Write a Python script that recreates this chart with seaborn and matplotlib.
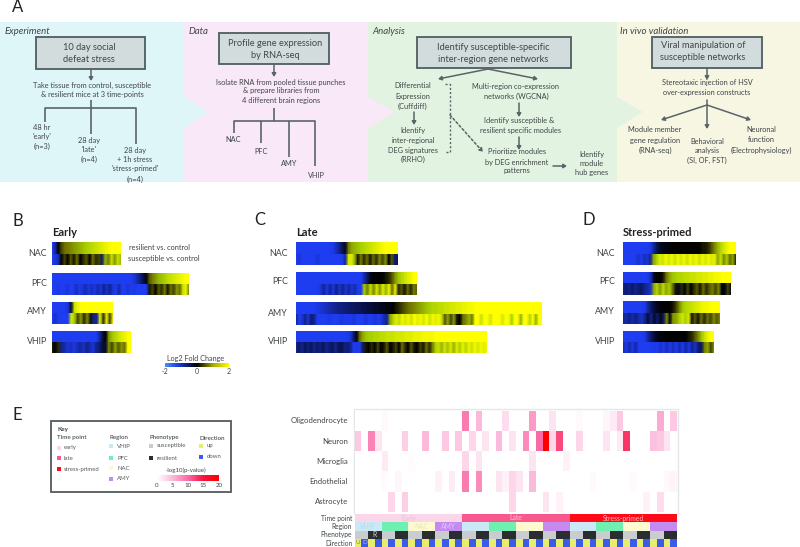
import matplotlib
matplotlib.use("Agg")
import matplotlib.pyplot as plt
import seaborn as sns
import pandas as pd
from matplotlib.colors import LinearSegmentedColormap, ListedColormap, Normalize
from matplotlib.cm import ScalarMappable
from matplotlib.patches import Polygon, Rectangle

# log2 fold change strips: top row resilient, bottom row susceptible
early_nac_res = [-2, -1.2, -.1, .3, .5, .6, .7, .8, .9, 1, 1.1, 1.2, 1.3, 1.4, 1.5, 1.6, 1.7, 1.8, 1.9, 2, 2, 2, 2]
early_nac_sus = [-2, -1.5, -1.3, 0, .3, 0, .4, .1, .5, 0, .2, .4, 0, .5, .2, .3, -.8, 1, .6, 1.5, .8, 1.5, 1]
early_pfc_res = [-2]*26 + [-1.8, -1.5, -1.2, -.9, -.5, -.1, .4, .6, .8, 1, 1.1, 1.2, 1.4, 1.5, 1.6, 1.7, 1.8, 1.9, 2, 2]
early_pfc_sus = [-2, -2, -1.6, -2, -2, -1.5, -2, -2, -1.3, -2, -1.5, -1.2, -1.6, -1.3, -1.6, -1.2, -1.5, -1, -1.4, -1, -1.5, -1.7, -1.2, -1.7, -1.7, -1.5, -2, -1.6, -2, -2, -1.8, -2,
                 .1, .3, 0, .4, .2, .6, .1, .5, .3, .8, .5, 1.5, 1.8, .6]
early_amy_res = [-2, -2, -2, -2, -2, -1.5, -.3, 1.5, 1.8, 2, 2, 2, 2, 2, 2, 2, 2, 2, 2, 2]
early_amy_sus = [-2, -1.4, -2, -2, -2, -2, 1.6, 1.2, .3, .8, .2, .7, .1, -1, -1, 1.8, .2, 1.8, .3, 2]
early_vhip_res = [-2]*15 + [-1.2, -.5, 0, .8, 1.1, 1.3, 1.5, 1.7, 1.8, 2, 2]
early_vhip_sus = [.1, -.1, .2, -1, -1.2, -1.5, -1.3, -1.6, -1.3, -1.1, -1.4, -1, -1.2, -1.5, -1, -.8, -.4, -.3, .7, .3, .9, .4, .8, .5, 2, 2]

late_nac_res = [-2]*11 + [-1.8, -1.6, -1.3, -1, -.6, -.2, .6, .9, 1, 1.1, 1.2, 1.3, 1.4, 1.5, 1.6, 1.7, 1.8, 1.9, 2, 2, 2, 2, 2]
late_nac_sus = [-2, -1.5, -2, -1.7, -2, -1.7, -2, -1.5, -2, -2, -1.7, -2, -2, -1.8, -2, -2, -1, 1.6, 1.7, 1, .1, .6, .2, .5, .1, .5, .2, .7, .3, .8, 0, .4, -.8, -.6]
late_pfc_res = [-2]*21 + [-1.7, -1.2, -.7, -.2, 0, 0, 0, 0, .1, .2, .4, .8, 1.1, 1.3, 1.5, 1.7, 1.8, 2, 2]
late_pfc_sus = [-2]*8 + [-1.5, -1, -1.6, -1, -1.6, -.9, -1.5, -1, -1.5, -1.1, -1.5, -1.2, -1.7, -1.6,
                         1.2, .6, 1.5, .7, 1.6, .8, 1.7, 1, 1.8, .5, 1.8, .2, .4, .1, .5, .2, .6, .4]
late_amy_res = [-2]*6 + [-1.8, -1.6, -1.5, -1.4, -1.3, -1.2, -1.1, -1, -.9, -.9, -.8, -.8, -.7, -.7, -.6, -.6, -.5, -.5, -.4, -.4, -.3, -.3, -.2, -.2, -.1, -.1,
                         0, .1, .2, .3, .4, .5, .6, .7, .8, .9, 1, 1.1, 1.2, 1.3, 1.3, 1.4, 1.4, 1.5, 1.5, 1.6, 1.6, 1.7, 1.7, 1.8, 1.8, 1.9, 1.9] + [2]*23
late_amy_sus = [-1, -1.8, -1.5, -1, -1.5, -.8, -1, -2, -2, -2, -2, -1.6, -2, -2, -2, -1.5, -2, -1.6, -2, -1.5, -2, -1.7, -2, -1.5, -2, -1.8, -1.5, -2, -1.6, -1.2, -1,
                .9, 1.3, 1.7, 1.4, 1.9, 1.6, 1.9, 1.5, 2, 1.7, 1.9, 1.6, 2, 1.5, 1.9, 1.7, 1.9, 1.5,
                .4, .9, .3, .8, .1, 0, .5, .7, 1, .6,
                2, 2, 1.5, 2, 2, 1.6, 2, 2, 2, 1.6, 2, 2, 1.2, 2, 2, 1, 2, 2, 1.3, 2, 1, 2, 2]
late_vhip_res = [-2]*18 + [-1.5, -.8, -.1, .5, .9, 1.1, 1.2, 1.2, 1.3, 1.3, 1.4, 1.4, 1.5, 1.5, 1.5, 1.6, 1.6, 1.6, 1.7, 1.7, 1.7, 1.8, 1.8, 1.8, 1.9, 1.9, 1.9, 1.9] + [2]*18
late_vhip_sus = [-1, -.7, -1, -.6, -.9, -.6, -1, -.7, -.9, -.6, -1, -.8, -.6, -1, -.7, -.5, -.9, -.8, -1, -2, -1.6, -2, -.8,
                 .1, 0, .2, 0, .3, 0, .1, .4, 0, .1, .3, 0, .5, .2, 0, .4, .1, 0, .3, .1, .5, .2, .6,
                 1.2, 1.5, 1, 1.6, 1.1, 1.7, 1, 1.7, 1.2, 1.8, 1.3, 1.8, 1.5, 1.9, 1.6, 1.9, 1.7, 1.9]

primed_nac_res = [-2]*9 + [-1.6, -1.1, -.6, -.3, -.2, -.1, -.1, 0, 0, 0, 0, 0, 0, 0, 0, 0, 0, .1, .1, .2, .4, .7, 1, 1.3, 1.6, 1.8, 2, 2, 2]
primed_nac_sus = [-2, -2, -2, -2, -2, -1.4, -1.7, -1.3, -1.5, -1, .9, 1.2, 1.7, 1.5, 1.9, 1.6, 1.9, 1.5, 1.9, 1.6, 1.9, 1.5, 1.9, 1.6, 1.9, 1.5, 1.9, 1.6, 1.9, 1.6, 1.8, .9, 1.5, .7, 1.2, .5, .9, .1]
primed_pfc_res = [-2]*9 + [-1.3, -.3, 0, 0, .1, .5, .9, 1.1, 1.2, 1.3, 1.3, 1.4, 1.4, 1.5, 1.5, 1.6, 1.6, 1.7, 1.7, 1.8, 1.8, 1.9, 1.9, 2, 2, 2, 2]
primed_pfc_sus = [-1, -.8, -1, -.7, -1, -.8, -.7, -1, -1.2, -1.4, .9, 1.3, .8, 1.4, .9, 1.2, .6, .1, -.2, .2, -.1, .3, 0, .2, .4, .1, .5, .2, .4, .6, .3, .7, 0, -.1, .3, -.2]
primed_amy_res = [-2]*7 + [-1.6, -1.1, -.7, -.4, -.2, -.1, 0, 0, 0, .1, .3, .7, 1.1, 1.3, 1.4, 1.5, 1.6, 1.7, 1.8, 1.9, 1.9, 2, 2, 2, 2]
primed_amy_sus = [-1, -1.2, -.9, -1.2, -.9, -1.2, -1.4, -1, -.4, -1, -.3, -.8, -.2, -.7, .7, -.2, .8, .9, 1.2, 1.6, 1.2, 1.7, .1, .4, .1, .5, .2, .5, .3, .7, .4, .7]
primed_vhip_res = [-2]*7 + [-1.6, -1.1, -.7, -.4, -.2, -.1, -.1, 0, 0, 0, 0, 0, 0, 0, .1, .2, .4, .7, 1.1, 1.5, 1.8, 2, 2]
primed_vhip_sus = [-1.2, -1.6, -1.2, -1.6, -1.1, -1.8, -2, -1.8, -2, -2, -1.6, -2, -1.4, -2, -1.3, -2, -1.3, -1.8, -1.2, -1.8, -1.1, -1.6, -1, -1.4, -.8, -.6, .6, .9, .3, .8]

regions = ["NAC", "PFC", "AMY", "VHIP"]
early_strips = [(early_nac_res, early_nac_sus), (early_pfc_res, early_pfc_sus), (early_amy_res, early_amy_sus), (early_vhip_res, early_vhip_sus)]
late_strips = [(late_nac_res, late_nac_sus), (late_pfc_res, late_pfc_sus), (late_amy_res, late_amy_sus), (late_vhip_res, late_vhip_sus)]
primed_strips = [(primed_nac_res, primed_nac_sus), (primed_pfc_res, primed_pfc_sus), (primed_amy_res, primed_amy_sus), (primed_vhip_res, primed_vhip_sus)]

# -log10(p) per cell type over the 48 modules
cell_types = ["Oligodendrocyte", "Neuron", "Microglia", "Endothelial", "Astrocyte"]
oligodendrocyte = [0, 0, 0, 0, .5, 0, 0, 0, 0, 0, 0, 0, 0, 0, 0, 0, 9, 0, 5, 0, 0, 0, 2.5, 0, 0, 0, 7, 0, 0, 2, 0, 0, 0, .5, 0, 0, 0, .7, 1.5, 4, 0, 0, 0, 0, 0, 6, 0, 4]
neuron = [4, 0, 8.5, 2, 0, 0, 0, 3.5, 0, 0, 5, 0, 0, 4, 0, 4, 0, 3, 0, 2, 0, 5, 0, 2, 0, 8, 0, 10, 20, 3, 12, 0, 0, 3, 0, 0, 0, 2, 0, 1.5, 13, 0, 0, 0, 4.5, 4, 2, 0]
microglia = [0, 0, 0, 0, 1.5, 0, 0, 0, .3, 0, 0, 0, 0, 0, 0, 0, 3, 0, 2, 0, 0, 0, 0, 0, 0, 0, 2, 0, 0, 0, 0, 1, 0, 0, 0, 0, 0, 0, 0, 0, 0, 0, 0, 0, 0, 0, 0, 0]
endothelial = [0, 0, 0, 0, .4, 0, .7, 0, 0, 0, 0, 0, 1, 0, 1.5, 0, 9, 0, 8, 0, 0, 2, 1, 3, 2, 0, 5, 0, 0, 0, 0, 0, 0, 0, 0, .5, 0, 0, 0, 0, 0, .4, 0, 0, 0, 0, .5, .8]
astrocyte = [0, 0, 0, 0, 0, 3, 0, 3.5, 0, 0, 0, 0, 0, 0, 0, 0, 0, 0, 0, 0, 0, 0, 0, 3, 0, 0, 0, 0, 2, 0, 1, 0, 0, 0, 0, 0, 0, 0, 0, 0, 0, 0, 0, 1, 0, 2.5, 0, 0]

time_points = ["early", "late", "stress-primed"]
time_colors = ["#FAD6E8", "#F9588F", "#FF0A18"]
key_regions = ["VHIP", "PFC", "NAC", "AMY"]
region_colors = ["#CBE8F6", "#6FF0B0", "#FDFAD2", "#C48AF0"]
phenotypes = ["susceptible", "resilient"]
phenotype_colors = ["#C9CDD0", "#2A2E30"]
directions = ["up", "down"]
direction_colors = ["#E8EE6A", "#3B5CE8"]
p_ticks = [0, 5, 10, 15, 20]

time_codes = [0]*16 + [1]*16 + [2]*16
region_codes = ([0]*4 + [1]*4 + [2]*4 + [3]*4) * 3
phenotype_codes = ([0]*2 + [1]*2) * 12
direction_codes = [0, 1] * 24

dark = "#404548"
line_col = "#5A6468"
box_fill = "#D3DCDD"
box_edge = "#4E5D62"

sns.set_style("white")
plt.rcParams["font.family"] = ["Lato", "DejaVu Sans"]
plt.rcParams["axes.unicode_minus"] = False

W, H = 800, 547
fig = plt.figure(figsize=(W/100, H/100), dpi=100)
bg = fig.add_axes([0, 0, 1, 1])
bg.set_xlim(0, W)
bg.set_ylim(H, 0)
bg.axis("off")


def px_axes(x0, y0, x1, y1):
    return fig.add_axes([x0/W, 1 - y1/H, (x1 - x0)/W, (y1 - y0)/H], zorder=3)


def label(x, y, s, size=5.35, ha="center", **kw):
    kw.setdefault("color", dark)
    bg.text(x, y, s, fontsize=size, ha=ha, va="center", **kw)


def arrow(x0, y0, x1, y1, ls="-"):
    bg.annotate("", xy=(x1, y1), xytext=(x0, y0),
                arrowprops=dict(arrowstyle="-|>,head_width=0.12,head_length=0.2", color=line_col, lw=1.1,
                                ls=ls, shrinkA=0, shrinkB=0))


def line(xs, ys, ls="-", lw=1.2):
    bg.plot(xs, ys, color=line_col, lw=lw, ls=ls, solid_capstyle="butt")


def box(x0, y0, x1, y1, lines, cx, ys):
    bg.add_patch(Rectangle((x0, y0), x1 - x0, y1 - y0, fc=box_fill, ec=box_edge, lw=1.3))
    for s, y in zip(lines, ys):
        label(cx, y, s, size=6.7)


# panel A backgrounds, right one first so each arrow tip lies over the next
bg.add_patch(Rectangle((617, 22), 183, 160, fc="#F6F6E3", lw=0))
bg.add_patch(Polygon([(368, 22), (617, 22), (617, 97), (643, 112), (617, 128), (617, 182), (368, 182)], fc="#E2F4E1", lw=0))
bg.add_patch(Polygon([(184, 22), (368, 22), (368, 97), (395, 112), (368, 128), (368, 182), (184, 182)], fc="#F8E8F8", lw=0))
bg.add_patch(Polygon([(0, 22), (184, 22), (184, 97), (208, 112), (184, 128), (184, 182), (0, 182)], fc="#DFF6F8", lw=0))

label(12, 7, "A", size=12, ha="left", color="#222222")
label(12, 221, "B", size=12, ha="left", color="#222222")
label(254, 220, "C", size=12, ha="left", color="#222222")
label(582, 220, "D", size=12, ha="left", color="#222222")
label(12, 415, "E", size=12, ha="left", color="#222222")

label(5, 31, "Experiment", size=6.9, ha="left", style="italic")
label(189, 31, "Data", size=6.9, ha="left", style="italic")
label(372, 31, "Analysis", size=6.9, ha="left", style="italic")
label(620, 31, "In vivo validation", size=6.9, ha="left", style="italic")

# experiment column
box(36, 37, 145, 69, ["10 day social", "defeat stress"], 89, [47, 59])
arrow(91, 69, 91, 81)
label(92, 85, "Take tissue from control, susceptible")
label(92, 95, "& resilient mice at 3 time-points")
line([91, 91], [100, 134])
line([45, 45, 136, 136], [122, 108, 108, 144])
for s, y in zip(["48 hr", "'early'", "(n=3)"], [127, 136, 146]):
    label(42, y, s)
for s, y in zip(["28 day", "'late'", "(n=4)"], [140, 150, 159]):
    label(89, y, s)
for s, y in zip(["28 day", "+ 1h stress", "'stress-primed'", "(n=4)"], [150, 159, 169, 179]):
    label(135, y, s)

# data column
box(219, 33, 329, 64, ["Profile gene expression", "by RNA-seq"], 275, [44, 56])
arrow(274, 64, 274, 77)
label(281, 82, "Isolate RNA from pooled tissue punches")
label(281, 91, "& prepare libraries from")
label(281, 101, "4 different brain regions")
line([274, 274], [108, 121])
line([234, 234, 315, 315], [133, 121, 121, 166])
line([261, 261], [121, 143])
line([289, 289], [121, 157])
for s, x, y in zip(regions, [233, 261, 289, 316], [140, 152, 163, 175]):
    label(x, y, s)

# analysis column
box(417, 37, 571, 68, ["Identify susceptible-specific", "inter-region gene networks"], 493, [47, 59])
arrow(488, 69, 438, 79)
arrow(488, 69, 538, 79)
for s, y in zip(["Differential", "Expression", "(Cuffdiff)"], [86, 96, 106]):
    label(413, y, s)
arrow(414, 112, 414, 125)
for s, y in zip(["Identify", "inter-regional", "DEG signatures", "(RRHO)"], [130, 140, 150, 159]):
    label(413, y, s)
line([445, 450, 450, 445], [84, 84, 152, 152], ls=(0, (1.5, 1.5)), lw=1)
arrow(450, 115, 483, 152, ls=(0, (1.5, 1.5)))
label(516, 86, "Multi-region co-expression")
label(516, 96, "networks (WGCNA)")
arrow(519, 103, 519, 117)
label(519, 121, "Identify susceptible &")
label(521, 130, "resilient specific modules")
arrow(519, 137, 519, 150)
label(517, 152, "Prioritize modules")
label(517, 162, "by DEG enrichment")
label(517, 171, "patterns")
arrow(553, 166, 567, 166)
for s, y in zip(["Identify", "module", "hub genes"], [154, 164, 173]):
    label(592, y, s)

# validation column
box(652, 37, 762, 68, ["Viral manipulation of", "susceptible networks"], 703, [46, 57])
arrow(707, 68, 707, 80)
label(707, 83, "Stereotaxic injection of HSV")
label(707, 93, "over-expression constructs")
arrow(707, 100, 707, 129)
arrow(707, 105, 661, 120)
arrow(707, 105, 751, 120)
for s, y in zip(["Module member", "gene regulation", "(RNA-seq)"], [130, 140, 150]):
    label(655, y, s)
for s, y in zip(["Behavioral", "analysis", "(SI, OF, FST)"], [141, 151, 160]):
    label(707, y, s)
for s, y in zip(["Neuronal", "function", "(Electrophysiology)"], [130, 140, 150]):
    label(761, y, s)

# panels B, C, D
fc_cmap = LinearSegmentedColormap.from_list("fc", [(0, "#1E3CF0"), (.08, "#1E3CF0"), (.5, "#000000"), (.62, "#6A6A00"), (.8, "#A8D000"), (1, "#FFFF00")])
bar_cmap = LinearSegmentedColormap.from_list("fcbar", [(0, "#4A90F0"), (.2, "#1E3CE0"), (.5, "#000000"), (.75, "#A8A800"), (1, "#FFFF00")])


def one_row(x0, y0, x1, y1, vals):
    # gouraud needs two rows of corners, the same row twice gives a flat band
    ax = px_axes(x0, y0, x1, y1)
    sns.heatmap(pd.DataFrame([vals, vals]), ax=ax, cmap=fc_cmap, vmin=-2, vmax=2, cbar=False,
                xticklabels=False, yticklabels=False, shading="gouraud")
    ax.set_xlim(0, len(vals) - 1)
    ax.set_ylim(0, 1)


def strips(x0, rights, tops, bottoms, data):
    for x1, y0, y1, (res, sus) in zip(rights, tops, bottoms, data):
        mid = (y0 + y1)/2
        one_row(x0, y0, x1, mid, res)
        one_row(x0, mid, x1, y1, sus)


strips(52, [121, 189, 113, 131], [242, 273, 302, 331], [265, 295, 324, 353], early_strips)
strips(296, [398, 417, 542, 487], [242, 272, 302, 331], [265, 295, 325, 353], late_strips)
strips(623, [736, 731, 720, 714], [242, 272, 301, 331], [265, 294.5, 324, 353], primed_strips)

label(52, 232, "Early", size=8, ha="left", weight="bold", color="#222222")
label(296, 232, "Late", size=8, ha="left", weight="bold", color="#222222")
label(623, 232, "Stress-primed", size=8, ha="left", weight="bold", color="#222222")
for s, y in zip(regions, [253, 284, 312, 342]):
    label(47, y, s, size=6.4, ha="right")
for s, y in zip(regions, [253, 282, 314, 342]):
    label(288, y, s, size=6.4, ha="right")
for s, y in zip(regions, [253, 282, 312, 341]):
    label(615, y, s, size=6.4, ha="right")
label(129, 247, "resilient vs. control", size=5.3, ha="left")
label(128, 258, "susceptible vs. control", size=5.3, ha="left")

cax = px_axes(165, 363, 229, 367)
cb = fig.colorbar(ScalarMappable(Normalize(-2, 2), bar_cmap), cax=cax, orientation="horizontal", ticks=[-2, 0, 2])
cb.outline.set_visible(False)
cb.ax.tick_params(length=0, pad=1, labelsize=5, labelcolor=dark)
label(196, 359, "Log2 Fold Change", size=5.2)

# panel E heatmap
p_cmap = LinearSegmentedColormap.from_list("p", [(0, "#FFFFFF"), (.25, "#FBBADB"), (.5, "#FA6CA6"), (.75, "#F5123C"), (1, "#FF0000")])
hm = pd.DataFrame([oligodendrocyte, neuron, microglia, endothelial, astrocyte], index=cell_types)
ax = px_axes(354.7, 410.7, 677, 511.7)
sns.heatmap(hm, ax=ax, cmap=p_cmap, vmin=0, vmax=20, cbar=False, xticklabels=False, yticklabels=True)
ax.tick_params(axis="y", length=0, pad=5, labelsize=5.6, labelcolor=dark, rotation=0)
line([354.2, 354.2, 677.5, 677.5], [514, 409, 409, 514], lw=1)
bg.lines[-1].set_color("#E4E6E8")

strip_rows = [(time_codes, time_colors, 514, 522, "Time point"), (region_codes, region_colors, 522, 530.5, "Region"),
              (phenotype_codes, phenotype_colors, 530.5, 539, "Phenotype"), (direction_codes, direction_colors, 539, 547, "Direction")]
strip_axes = []
for codes, colors, y0, y1, name in strip_rows:
    sax = px_axes(354.7, y0, 677, y1)
    sns.heatmap(pd.DataFrame([codes]), ax=sax, cmap=ListedColormap(colors), vmin=-.5, vmax=len(colors) - .5, cbar=False,
                xticklabels=False, yticklabels=False)
    label(352, (y0 + y1)/2, name, size=4.8, ha="right")
    strip_axes.append(sax)

strip_axes[0].text(8, .5, "Early", fontsize=4.9, color="#E8C4D4", ha="center", va="center")
strip_axes[0].text(24, .5, "Late", fontsize=4.9, color="#FBC4D6", ha="center", va="center")
strip_axes[0].text(40, .5, "Stress-primed", fontsize=4.9, color="#FFC0B8", ha="center", va="center")
strip_axes[1].text(2, .5, "VHIP", fontsize=4.9, color="#B4DAEE", ha="center", va="center")
strip_axes[1].text(10, .5, "NAC", fontsize=4.9, color="#EAE6BC", ha="center", va="center")
strip_axes[1].text(14, .5, "AMY", fontsize=4.9, color="#E0C4F8", ha="center", va="center")
strip_axes[2].text(3, .5, "R", fontsize=4.9, color="#D8D8D8", ha="center", va="center")
strip_axes[3].text(.5, .5, "U", fontsize=4.5, color="#8A8A30", ha="center", va="center")
strip_axes[3].text(1.5, .5, "D", fontsize=4.5, color="#A8B8F4", ha="center", va="center")

# key
bg.add_patch(Rectangle((51, 421), 180, 71, fc="white", ec="#55595C", lw=1.3))
label(57, 429, "Key", size=4.6, ha="left", weight="bold")


def key_column(x, name, sw_x, txt_x, ys, names, colors):
    label(x, 438, name, size=4.5, ha="left", weight="medium")
    for y, s, c in zip(ys, names, colors):
        bg.add_patch(Rectangle((sw_x - 2, y - 2), 4, 4, fc=c, lw=0))
        label(txt_x, y, s, size=4.3, ha="left", color="#555A5E")


key_column(57, "Time point", 58.5, 64, [448, 458, 469], time_points, time_colors)
key_column(109, "Region", 111, 117, [446, 458, 468, 479], key_regions, region_colors)
key_column(149, "Phenotype", 151, 157, [446, 458], phenotypes, phenotype_colors)
key_column(199, "Direction", 201, 207, [446, 457], directions, direction_colors)
label(186, 470, "-log10(p-value)", size=4.4)
kax = px_axes(157, 475, 219, 481)
kb = fig.colorbar(ScalarMappable(Normalize(0, 20), p_cmap), cax=kax, orientation="horizontal", ticks=p_ticks)
kb.outline.set_visible(False)
kb.ax.tick_params(length=0, pad=1.5, labelsize=4.4, labelcolor=dark)

fig.savefig("out.png", dpi=100)
